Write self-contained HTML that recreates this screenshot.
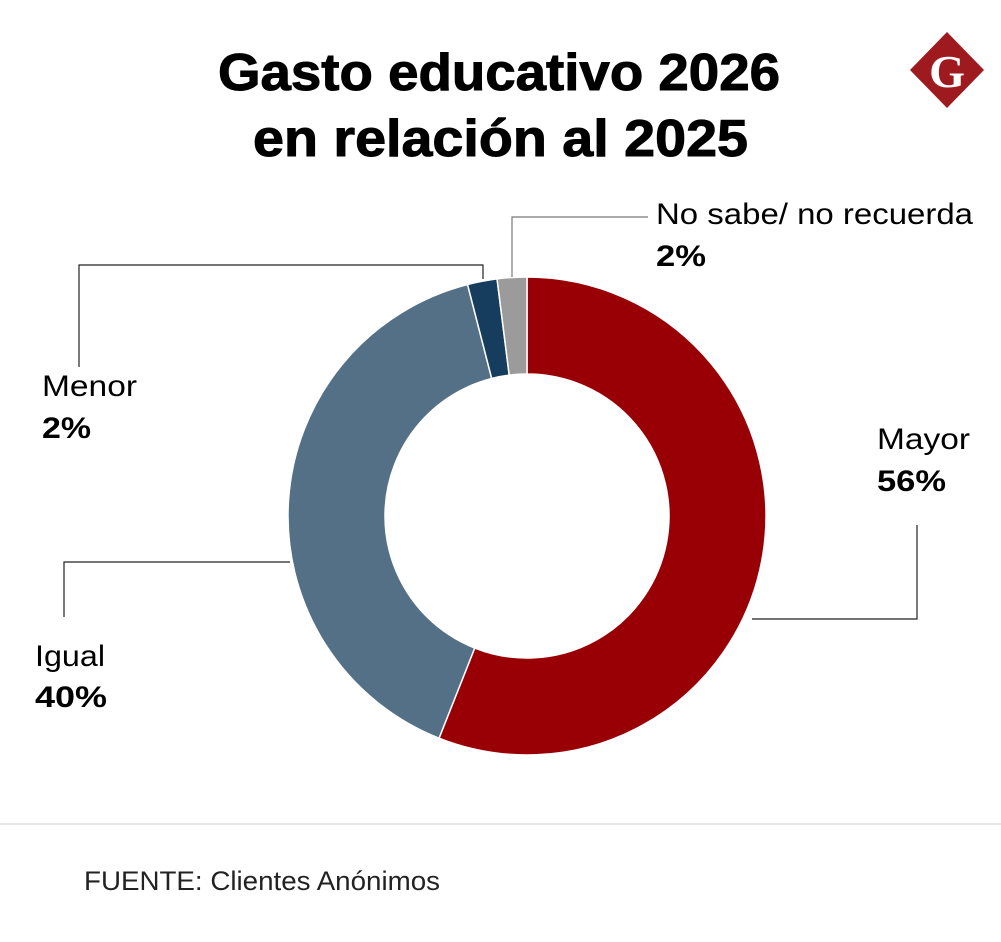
<!DOCTYPE html>
<html><head><meta charset="utf-8"><style>
html,body{margin:0;padding:0;background:#fff;}
body{width:1001px;height:937px;overflow:hidden;font-family:"Liberation Sans","DejaVu Sans",sans-serif;}
</style></head><body>
<svg width="1001" height="937">
<text x="218" y="90" textLength="562" lengthAdjust="spacingAndGlyphs" font-size="52" font-weight="bold" fill="#000" stroke="#000" stroke-width="1">Gasto educativo 2026</text>
<text x="253" y="156" textLength="495" lengthAdjust="spacingAndGlyphs" font-size="52" font-weight="bold" fill="#000" stroke="#000" stroke-width="1">en relación al 2025</text>
<g>
<polygon points="947,32 984,70 947,108 910,70" fill="#9e1a1f"/>
<text x="947" y="87" text-anchor="middle" font-family="Liberation Serif,serif" font-weight="bold" font-size="46" fill="#fff">G</text>
</g>
<g id="donut"></g>
<g fill="none" stroke="#222" stroke-width="1.2">
<polyline points="483,279 483,265 79,265 79,367"/>
<polyline points="512,277 512,217 648,217" stroke="#777"/>
<polyline points="752,619 917,619 917,525"/>
<polyline points="290,562 64,562 64,617"/>
</g>
<g font-size="30" fill="#000">
<text x="656" y="224" textLength="317" lengthAdjust="spacingAndGlyphs">No sabe/ no recuerda</text>
<text x="656" y="266" textLength="50" lengthAdjust="spacingAndGlyphs" font-weight="bold">2%</text>
<text x="42" y="396" textLength="95" lengthAdjust="spacingAndGlyphs">Menor</text>
<text x="42" y="438" textLength="49" lengthAdjust="spacingAndGlyphs" font-weight="bold">2%</text>
<text x="877" y="449" textLength="93" lengthAdjust="spacingAndGlyphs">Mayor</text>
<text x="877" y="491" textLength="69" lengthAdjust="spacingAndGlyphs" font-weight="bold">56%</text>
<text x="35" y="666" textLength="70" lengthAdjust="spacingAndGlyphs">Igual</text>
<text x="35" y="707" textLength="72" lengthAdjust="spacingAndGlyphs" font-weight="bold">40%</text>
</g>
<line x1="0" y1="824" x2="1001" y2="824" stroke="#ccc" stroke-width="1"/>
<text x="84" y="890" textLength="356" lengthAdjust="spacingAndGlyphs" font-size="27" fill="#222">FUENTE: Clientes Anónimos</text>
</svg>
<script>
const categories=["Mayor","Igual","Menor","No sabe/ no recuerda"];
const values=[56,40,2,2];
const colors=["#990006","#537086","#173d5e","#9b9b9b"];
const cx=527,cy=516,R=239,r=142;
const g=document.getElementById('donut');
const total=values.reduce((a,b)=>a+b,0);
let a0=0;
function pt(rad,a){return [cx+rad*Math.sin(a),cy-rad*Math.cos(a)];}
values.forEach((v,i)=>{
 const a1=a0+v/total*2*Math.PI;
 const large=(a1-a0)>Math.PI?1:0;
 const [x1,y1]=pt(R,a0),[x2,y2]=pt(R,a1),[x3,y3]=pt(r,a1),[x4,y4]=pt(r,a0);
 const p=document.createElementNS('http://www.w3.org/2000/svg','path');
 p.setAttribute('d',`M${x1},${y1}A${R},${R} 0 ${large} 1 ${x2},${y2}L${x3},${y3}A${r},${r} 0 ${large} 0 ${x4},${y4}Z`);
 p.setAttribute('fill',colors[i]);
 p.setAttribute('stroke','#fff');
 p.setAttribute('stroke-width','1.5');
 
 
 g.appendChild(p);
 a0=a1;
});
</script>
</body></html>
